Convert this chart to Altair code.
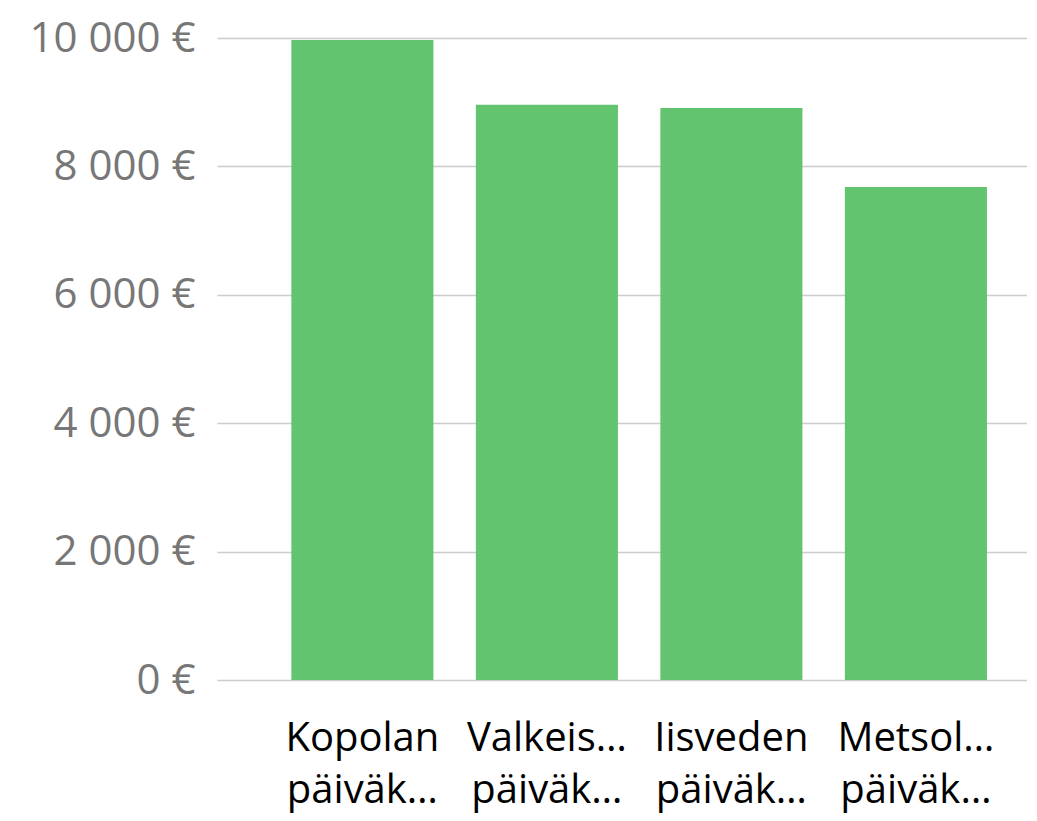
import altair as alt
import pandas as pd

categories = ["Kopolan|päiväk…", "Valkeis…|päiväk…", "Iisveden|päiväk…", "Metsol…|päiväk…"]
values = [9970, 8960, 8910, 7680]

df = pd.DataFrame({"name": categories, "value": values})

FONT = "Open Sans"

chart = alt.Chart(df).mark_bar(color="#63C46F").encode(
    x=alt.X("name:N", sort=None, title=None,
            scale=alt.Scale(paddingInner=0.23, paddingOuter=0.31, align=0.65),
            axis=alt.Axis(labelExpr="split(datum.label, '|')", labelAngle=0,
                          labelFont=FONT, labelFontSize=40, labelColor="#000000",
                          labelLineHeight=52, labelPadding=70, ticks=False,
                          domain=False, grid=False, labelBaseline="alphabetic")),
    y=alt.Y("value:Q", title=None,
            scale=alt.Scale(domain=[0, 10000]),
            axis=alt.Axis(values=[0, 2000, 4000, 6000, 8000, 10000],
                          labelExpr="replace(format(datum.value, ','), ',', ' ') + ' €'",
                          labelFont=FONT, labelFontSize=42, labelColor="#777777",
                          labelPadding=22, ticks=False, domain=False,
                          gridColor="#CCCCCC", gridWidth=1.5)),
).properties(
    width=810, height=642,
    autosize=alt.AutoSizeParams(type="none"),
    padding={"left": 209, "top": 30, "right": 0, "bottom": 133},
).configure_view(stroke=None)

chart.save("out.html", embed_options={"renderer": "svg", "actions": False})
